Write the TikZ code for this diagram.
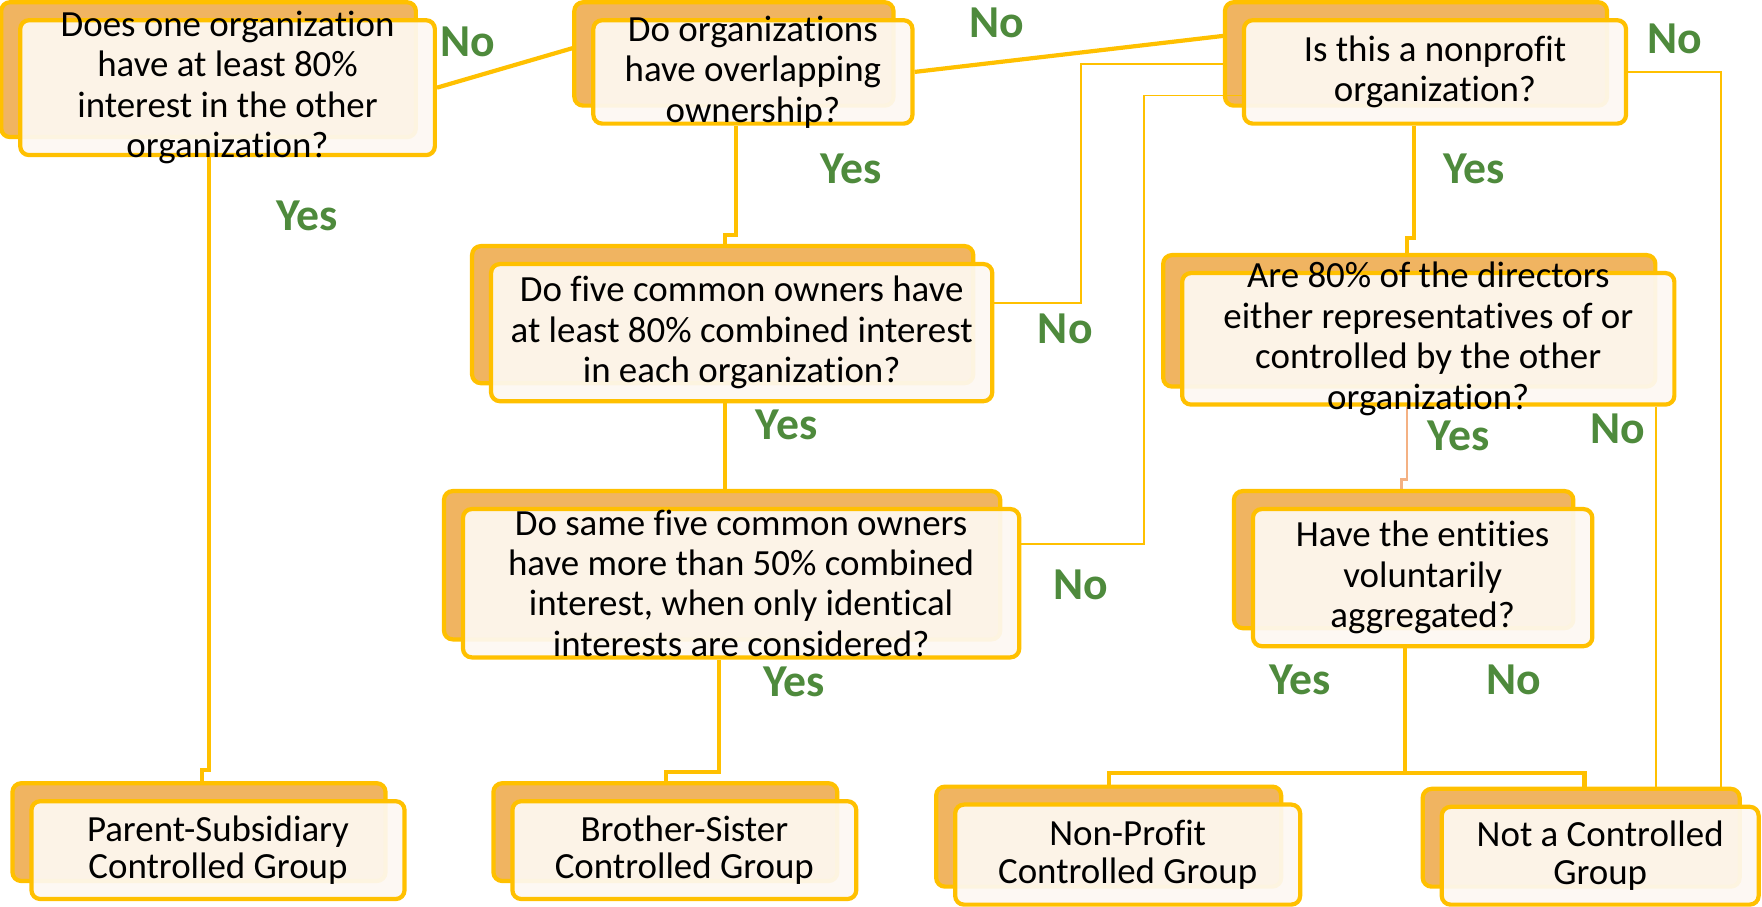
\documentclass[tikz,border=0pt]{standalone}
\usepackage{fontspec}
\setmainfont{Carlito}[Ligatures=NoCommon]
\usepackage{xcolor}
\usepackage{tikz}
\usetikzlibrary{shadows,backgrounds,calc}

\definecolor{gold}{HTML}{FFC000}
\definecolor{peach}{HTML}{F0B461}
\definecolor{cream}{HTML}{FDF8F2}
\definecolor{leaf}{HTML}{4E8A3C}
\definecolor{salmon}{HTML}{F4B183}
\newcommand{\pxu}{0.022474cm}

\begin{document}
\begin{tikzpicture}[
  x=\pxu, y=-\pxu,
  qbox/.style={rectangle, rounded corners=5pt, draw=gold, line width=2.4pt,
               fill=cream, fill opacity=0.93, inner sep=0pt,
               copy shadow={shadow xshift=-0.38cm, shadow yshift=0.36cm,
                            fill=peach, draw=gold, fill opacity=1, line width=2.4pt}},
  boxsize/.style 2 args={minimum width=#1*\pxu, minimum height=#2*\pxu},
  qtext/.style={font=\fontsize{21}{23}\selectfont, align=center,
                text opacity=1, fill opacity=1},
  rtext/.style={qtext, font=\fontsize{21}{21.5}\selectfont},
  ans/.style={font=\fontsize{26}{28}\selectfont\bfseries, text=leaf},
  link/.style={draw=gold, line width=2.4pt},
  thin/.style={draw=gold, line width=1.1pt}
]
\useasboundingbox (0,0) rectangle (1568,807);

% questions
\node[qbox, boxsize={369}{120}, label={[qtext]center:{Does one organization\\have at least 80\%\\interest in the other\\organization?}}] (q1) at (202.5,78) {};
\node[qbox, boxsize={284}{92}, label={[qtext]center:{Do organizations\\have overlapping\\ownership?}}] (q2) at (670,64) {};
\node[qbox, boxsize={340}{92}, label={[qtext]center:{Is this a nonprofit\\organization?}}] (q3) at (1277,64) {};
\node[qbox, boxsize={446}{122}, label={[qtext]center:{Do five common owners have\\at least 80\% combined interest\\in each organization?}}] (q4) at (660,296) {};
\node[qbox, boxsize={495}{132}, label={[qtext]center:{Do same five common owners\\have more than 50\% combined\\interest, when only identical\\interests are considered?}}] (q5) at (659.5,519) {};
\node[qbox, boxsize={438}{117}, label={[qtext]center:{Are 80\% of the directors\\either representatives of or\\controlled by the other\\organization?}}] (q6) at (1271,301.5) {};
\node[qbox, boxsize={302}{122}, label={[qtext]center:{Have the entities\\voluntarily\\aggregated?}}] (q7) at (1266,514) {};

% results
\node[qbox, boxsize={332}{87}, label={[rtext]center:{Parent-Subsidiary\\Controlled Group}}] (r1) at (194,756.5) {};
\node[qbox, boxsize={306}{87}, label={[rtext]center:{Brother-Sister\\Controlled Group}}] (r2) at (609,756.5) {};
\node[qbox, boxsize={307}{89}, label={[rtext]center:{Non-Profit\\Controlled Group}}] (r3) at (1003.5,760.5) {};
\node[qbox, boxsize={282}{87}, label={[rtext]center:{Not a Controlled\\Group}}] (r4) at (1424,761.5) {};

% connectors
\begin{scope}[on background layer]
\draw[link] (q1.east) -- ($(q2.west)+(0,-26)$);
\draw[link] (q2.east) -- ($(q3.west)+(0,-34)$);
\draw[link] ($(q1.south)+(-16.5,0)$) -- ++(0,545) -| ($(r1.north)+(-14,0)$);
\draw[link] ($(q2.south)+(-15,0)$) -- ++(0,97) -| ($(q4.north)+(-15,0)$);
\draw[link] ($(q4.south)+(-15,0)$) -- ($(q5.north)+(-14.5,0)$);
\draw[link] ($(q5.south)+(-19.5,0)$) -- ++(0,100) -| ($(r2.north)+(-16,0)$);
\draw[link] ($(q3.south)+(-19,0)$) -- ++(0,100) -| ($(q6.north)+(-19,0)$);
\draw[link, draw=salmon, line width=1.6pt] ($(q6.south)+(-19,0)$) -- ++(0,65) -| ($(q7.north)+(-19,0)$);
\draw[link] ($(q7.south)+(-16,0)$) -- ++(0,111) coordinate (fork);
\draw[link] (fork) -| ($(r3.north)+(-16.5,0)$);
\draw[link] (fork) -| ($(r4.north)+(-14,0)$);
\draw[thin] ($(q4.east)+(0,-26)$) -- ++(77,0) |- ($(q3.west)+(0,-7)$);
\draw[thin] (q3.east) -| ($(r4.north east)+(-35,0)$);
\draw[thin] ($(q6.south east)+(-18,0)$) coordinate (drop) -- (drop |- r4.north);
\end{scope}
\draw[thin] ($(q5.east)+(0,-35)$) -- ++(109,0) |- ($(q3.west)+(0,21)$);

% answers
\node[ans] (no1) at (416,37) {No};
\node[ans] (no2) at (887,20) {No};
\node[ans] (no3) at (1490,35) {No};
\node[ans] (yes1) at (273,192) {Yes};
\node[ans] (yes2) at (757,150) {Yes};
\node[ans] (yes3) at (1312,150) {Yes};
\node[ans] (no4) at (948,293) {No};
\node[ans] (yes4) at (700,378) {Yes};
\node[ans] (no5) at (962,520) {No};
\node[ans] (yes5) at (707,607) {Yes};
\node[ans] (yes6) at (1298,388) {Yes};
\node[ans] (no6) at (1440,382) {No};
\node[ans] (yes7) at (1157,605) {Yes};
\node[ans] (no7) at (1347,605) {No};
\end{tikzpicture}
\end{document}
